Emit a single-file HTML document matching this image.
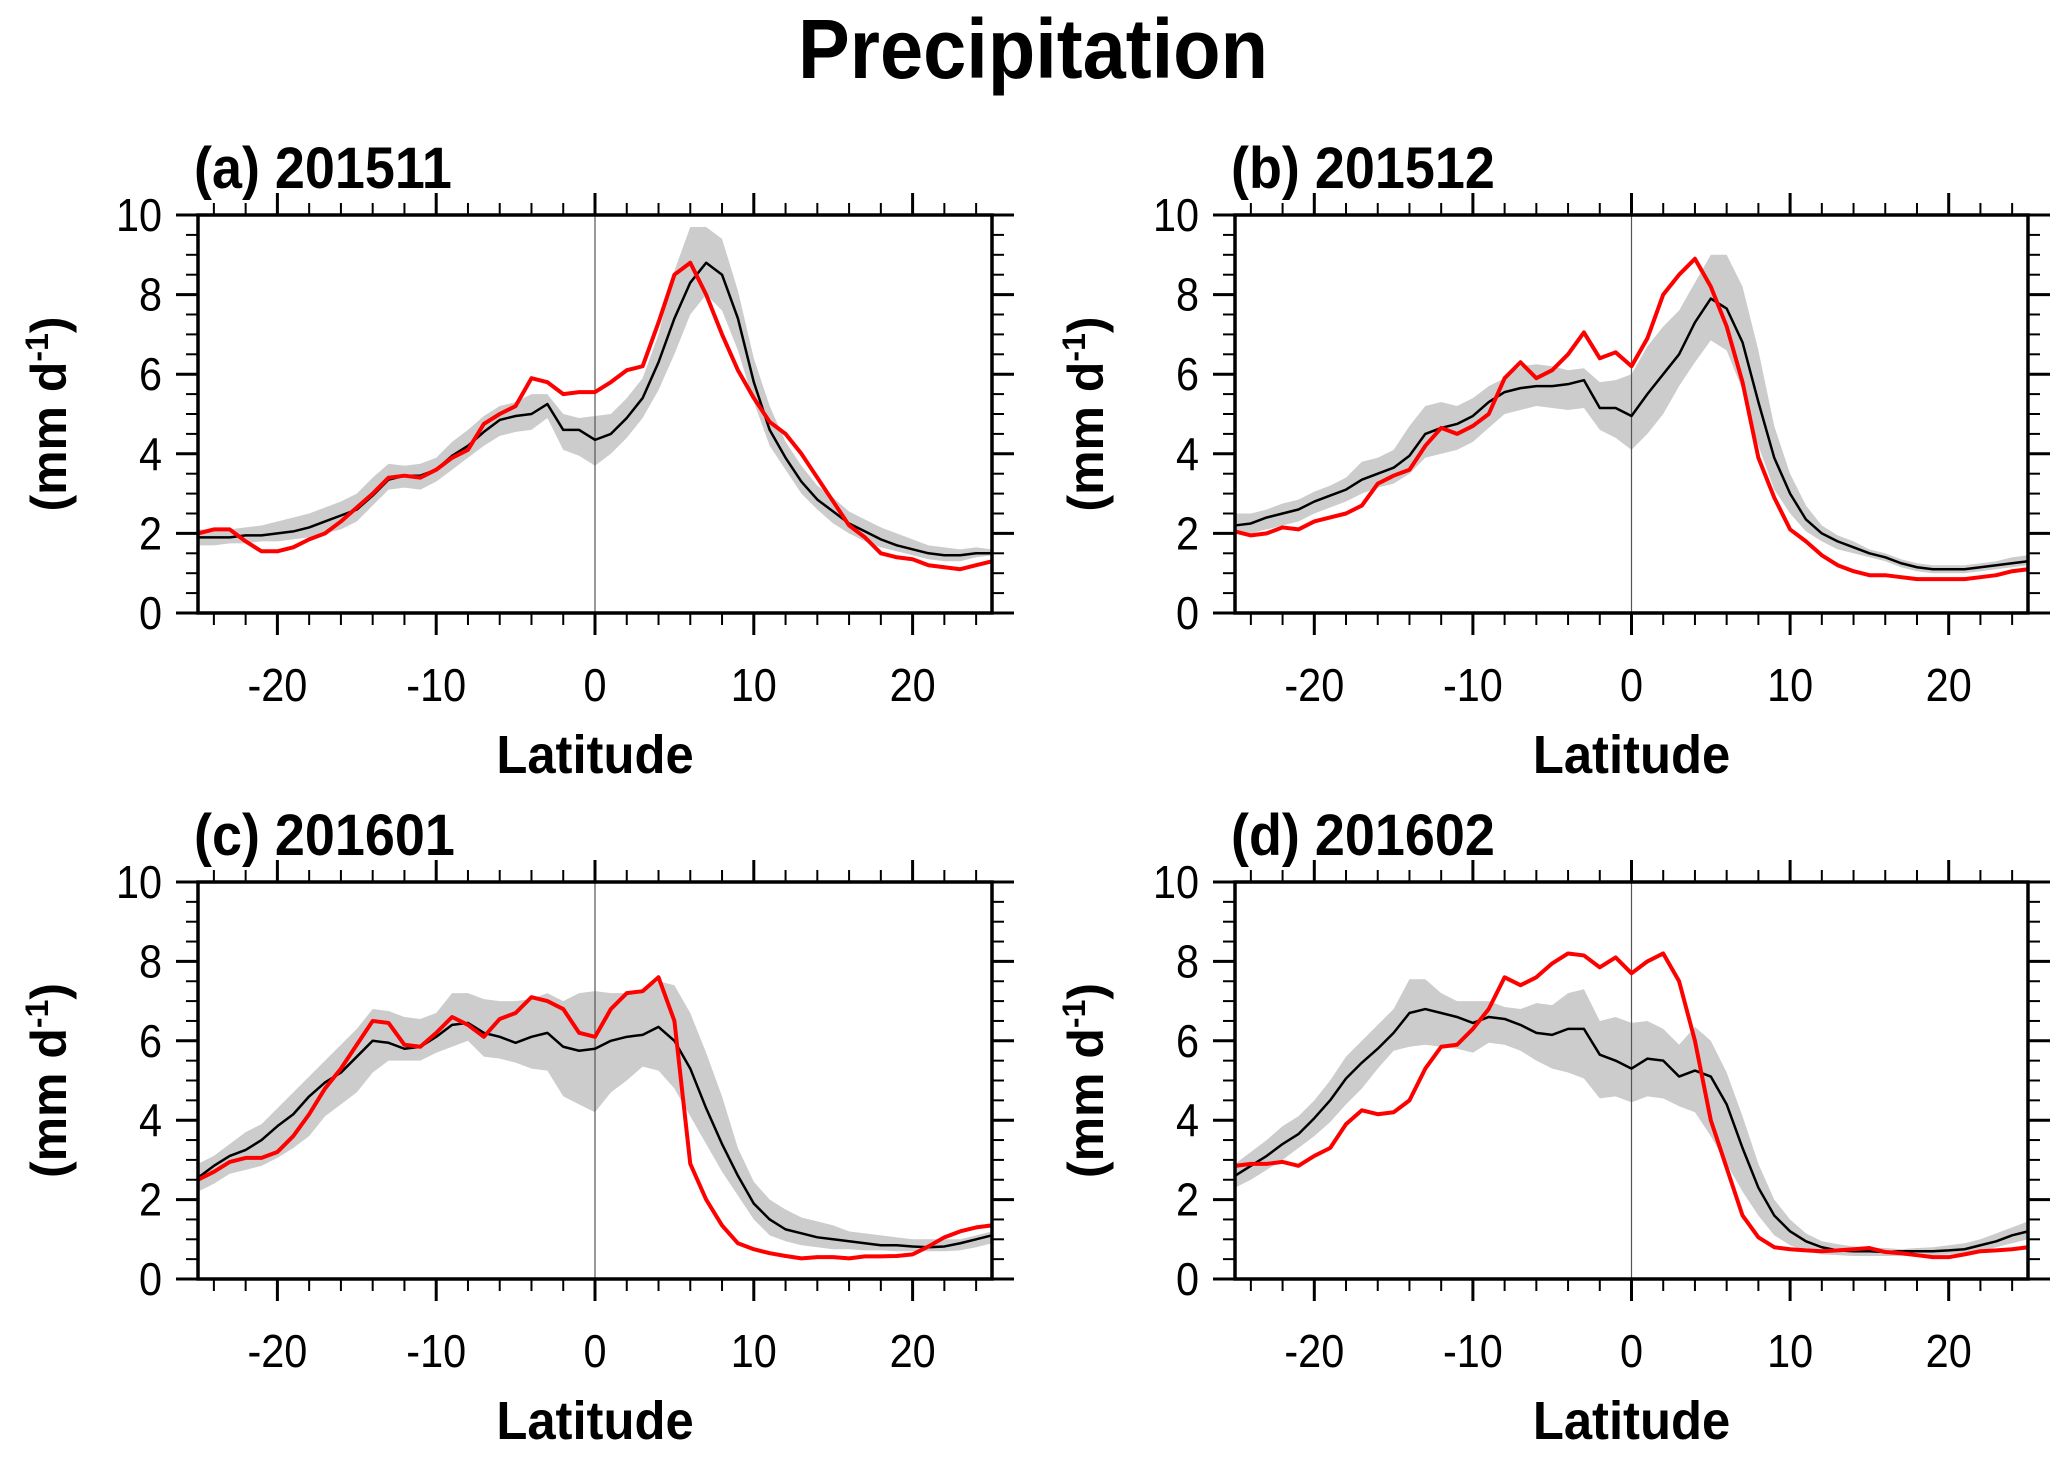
<!DOCTYPE html>
<html><head><meta charset="utf-8"><style>
html,body{margin:0;padding:0;background:#fff}
svg{display:block;font-family:"Liberation Sans",Arial,sans-serif}
</style></head><body>
<svg id="chart" width="2067" height="1457" viewBox="0 0 2067 1457" xmlns="http://www.w3.org/2000/svg">
<text transform="translate(1033,78) scale(0.97,1.05)" text-anchor="middle" font-size="80" font-weight="bold">Precipitation</text>
</svg>
<script>
const lats = [];
for (let d=-25; d<=25; d++) lats.push(d);
const xTicks = [-20,-10,0,10,20];
const yTicks = [0,2,4,6,8,10];
const panelTitles = ["(a) 201511","(b) 201512","(c) 201601","(d) 201602"];

const blackA=[1.9,1.9,1.9,1.95,1.95,2.0,2.05,2.15,2.3,2.45,2.6,2.95,3.35,3.45,3.45,3.6,3.95,4.2,4.55,4.85,4.95,5.0,5.25,4.6,4.6,4.35,4.5,4.9,5.4,6.3,7.4,8.3,8.8,8.5,7.4,5.8,4.6,3.9,3.3,2.85,2.55,2.25,2.05,1.85,1.7,1.6,1.5,1.45,1.45,1.5,1.5];
const redA=[2.0,2.1,2.1,1.8,1.55,1.55,1.65,1.85,2.0,2.3,2.65,3.0,3.4,3.45,3.4,3.6,3.9,4.1,4.75,5.0,5.2,5.9,5.8,5.5,5.55,5.55,5.8,6.1,6.2,7.3,8.5,8.8,8.0,7.0,6.1,5.4,4.8,4.5,4.0,3.4,2.8,2.2,1.9,1.5,1.4,1.35,1.2,1.15,1.1,1.2,1.3];
const upperA=[2.1,2.1,2.1,2.15,2.2,2.3,2.4,2.5,2.65,2.8,3.0,3.4,3.75,3.7,3.75,3.9,4.3,4.6,4.95,5.2,5.3,5.5,5.5,5.0,4.9,4.95,5.0,5.4,5.9,7.0,8.6,9.7,9.7,9.4,8.1,6.4,5.2,4.3,3.7,3.2,2.9,2.55,2.35,2.15,2.0,1.85,1.7,1.65,1.6,1.65,1.6];
const lowerA=[1.7,1.7,1.75,1.75,1.8,1.8,1.85,1.9,2.0,2.1,2.3,2.7,3.1,3.15,3.1,3.3,3.6,3.9,4.2,4.45,4.55,4.6,4.9,4.1,3.95,3.7,4.0,4.4,4.9,5.6,6.5,7.5,8.0,7.6,6.6,5.3,4.2,3.6,3.0,2.6,2.25,2.0,1.8,1.65,1.55,1.45,1.35,1.3,1.3,1.4,1.45];

const blackB=[2.2,2.25,2.4,2.5,2.6,2.8,2.95,3.1,3.35,3.5,3.65,3.95,4.5,4.65,4.75,4.95,5.3,5.55,5.65,5.7,5.7,5.75,5.85,5.15,5.15,4.95,5.5,6.0,6.5,7.3,7.9,7.65,6.8,5.3,3.9,3.0,2.35,2.0,1.8,1.65,1.5,1.4,1.25,1.15,1.1,1.1,1.1,1.15,1.2,1.25,1.3];
const redB=[2.05,1.95,2.0,2.15,2.1,2.3,2.4,2.5,2.7,3.25,3.45,3.6,4.2,4.65,4.5,4.7,5.0,5.9,6.3,5.9,6.1,6.5,7.05,6.4,6.55,6.2,6.9,8.0,8.5,8.9,8.2,7.2,5.8,3.9,2.9,2.1,1.8,1.45,1.2,1.05,0.95,0.95,0.9,0.85,0.85,0.85,0.85,0.9,0.95,1.05,1.1];
const upperB=[2.5,2.5,2.6,2.75,2.85,3.05,3.2,3.4,3.8,3.9,4.1,4.7,5.2,5.3,5.2,5.4,5.7,5.9,6.2,6.25,6.2,6.1,6.15,5.8,5.85,6.0,6.7,7.2,7.6,8.3,9.0,9.0,8.2,6.6,4.7,3.5,2.7,2.2,1.95,1.8,1.6,1.5,1.35,1.25,1.2,1.2,1.2,1.25,1.3,1.4,1.45];
const lowerB=[2.0,2.0,2.1,2.2,2.3,2.5,2.65,2.8,3.0,3.15,3.25,3.5,3.9,4.0,4.1,4.3,4.65,5.0,5.1,5.2,5.15,5.1,5.15,4.6,4.4,4.1,4.5,5.0,5.7,6.3,6.85,6.6,5.6,4.2,3.1,2.5,2.05,1.8,1.6,1.5,1.4,1.3,1.15,1.05,1.0,1.0,1.0,1.05,1.1,1.15,1.2];

const blackC=[2.55,2.85,3.1,3.25,3.5,3.85,4.15,4.6,4.95,5.2,5.6,6.0,5.95,5.8,5.85,6.1,6.4,6.45,6.2,6.1,5.95,6.1,6.2,5.85,5.75,5.8,6.0,6.1,6.15,6.35,6.0,5.3,4.3,3.4,2.6,1.9,1.5,1.25,1.15,1.05,1.0,0.95,0.9,0.85,0.85,0.82,0.8,0.82,0.9,1.0,1.1];
const redC=[2.5,2.7,2.95,3.05,3.05,3.2,3.6,4.15,4.8,5.3,5.9,6.5,6.45,5.9,5.85,6.2,6.6,6.4,6.1,6.55,6.7,7.1,7.0,6.8,6.2,6.1,6.8,7.2,7.25,7.6,6.5,2.9,2.0,1.35,0.9,0.75,0.65,0.58,0.52,0.55,0.55,0.52,0.57,0.57,0.58,0.62,0.82,1.05,1.2,1.3,1.35];
const upperC=[2.9,3.1,3.4,3.7,3.9,4.3,4.7,5.1,5.5,5.9,6.3,6.8,6.75,6.6,6.55,6.7,7.2,7.2,7.05,7.0,7.0,7.05,7.2,7.0,7.2,7.25,7.2,7.2,7.25,7.5,7.4,6.7,5.7,4.6,3.3,2.45,2.0,1.75,1.55,1.45,1.35,1.2,1.15,1.1,1.05,1.0,1.0,1.0,1.0,1.1,1.2];
const lowerC=[2.2,2.4,2.65,2.75,2.85,3.05,3.3,3.6,4.1,4.4,4.7,5.2,5.5,5.5,5.5,5.7,5.85,6.0,5.6,5.55,5.45,5.3,5.25,4.6,4.4,4.2,4.7,5.0,5.35,5.25,4.8,4.1,3.4,2.7,2.1,1.5,1.1,0.95,0.85,0.8,0.75,0.75,0.72,0.72,0.7,0.7,0.7,0.7,0.72,0.8,0.9];

const blackD=[2.6,2.85,3.1,3.4,3.65,4.05,4.5,5.05,5.45,5.8,6.2,6.7,6.8,6.7,6.6,6.45,6.6,6.55,6.4,6.2,6.15,6.3,6.3,5.65,5.5,5.3,5.55,5.5,5.1,5.25,5.1,4.4,3.3,2.3,1.6,1.2,0.95,0.8,0.72,0.7,0.7,0.68,0.7,0.7,0.7,0.72,0.75,0.85,0.95,1.1,1.2];
const redD=[2.85,2.9,2.9,2.95,2.85,3.1,3.3,3.9,4.25,4.15,4.2,4.5,5.3,5.85,5.9,6.3,6.8,7.6,7.4,7.6,7.95,8.2,8.15,7.85,8.1,7.7,8.0,8.2,7.5,6.0,4.0,2.8,1.6,1.05,0.8,0.75,0.72,0.7,0.72,0.75,0.78,0.68,0.65,0.6,0.55,0.55,0.62,0.7,0.72,0.75,0.8];
const upperD=[2.9,3.2,3.5,3.85,4.1,4.5,5.0,5.6,6.0,6.4,6.8,7.55,7.55,7.2,7.0,7.0,7.0,6.85,6.8,6.95,6.9,7.2,7.3,6.5,6.6,6.45,6.5,6.3,5.9,6.35,6.0,5.2,4.1,2.9,2.0,1.5,1.15,0.95,0.88,0.82,0.78,0.78,0.75,0.78,0.8,0.85,0.9,1.0,1.15,1.3,1.45];
const lowerD=[2.3,2.5,2.75,3.0,3.3,3.6,3.95,4.4,4.8,5.3,5.75,5.85,5.9,5.85,5.8,5.7,5.95,5.9,5.75,5.5,5.3,5.2,5.05,4.55,4.6,4.45,4.6,4.55,4.35,4.2,3.6,2.9,2.2,1.6,1.1,0.85,0.7,0.62,0.6,0.58,0.58,0.58,0.58,0.58,0.6,0.62,0.65,0.7,0.8,0.9,1.0];

const NS="http://www.w3.org/2000/svg";
const svg=document.getElementById('chart');
function mk(tag,attrs,parent){const e=document.createElementNS(NS,tag);for(const k in attrs)e.setAttribute(k,attrs[k]);(parent||svg).appendChild(e);return e;}

const panels=[
 {L:198,T:215,R:992,B:613,black:blackA,red:redA,up:upperA,lo:lowerA,key:'a'},
 {L:1235,T:215,R:2028,B:613,black:blackB,red:redB,up:upperB,lo:lowerB,key:'b'},
 {L:198,T:882,R:992,B:1279,black:blackC,red:redC,up:upperC,lo:lowerC,key:'c'},
 {L:1235,T:882,R:2028,B:1279,black:blackD,red:redD,up:upperD,lo:lowerD,key:'d'}
];

panels.forEach((p,i)=>{
  const g=mk('g',{});
  
  
  const xs=v=>p.L+(v+25)/50*(p.R-p.L);
  const ys=v=>p.B-v/10*(p.B-p.T);
  let d='M'+lats.map((la,j)=>xs(la)+','+ys(p.up[j])).join('L');
  for(let j=lats.length-1;j>=0;j--) d+='L'+xs(lats[j])+','+ys(p.lo[j]);
  const sh=mk('path',{d:d+'Z',fill:'#cccccc',stroke:'none'},g);
  
  
  const zl=mk('line',{x1:xs(0),x2:xs(0),y1:p.T,y2:p.B,stroke:'#555',"stroke-width":1.2},g);
  
  
  const bl=mk('path',{d:'M'+lats.map((la,j)=>xs(la)+','+ys(p.black[j])).join('L'),fill:'none',stroke:'#000',"stroke-width":2.5,"stroke-linejoin":"round"},g);
  
  
  const rl=mk('path',{d:'M'+lats.map((la,j)=>xs(la)+','+ys(p.red[j])).join('L'),fill:'none',stroke:'#ff0000',"stroke-width":4,"stroke-linejoin":"round"},g);
  
  
  const fr=mk('rect',{x:p.L,y:p.T,width:p.R-p.L,height:p.B-p.T,fill:'none',stroke:'#000',"stroke-width":3.5},g);
  
  
  const tg=mk('g',{stroke:'#000'},g);
  
  
  for(let v=-24;v<=24;v+=2){const x=xs(v);
    mk('line',{x1:x,x2:x,y1:p.B,y2:p.B+12,"stroke-width":2},tg);
    mk('line',{x1:x,x2:x,y1:p.T,y2:p.T-12,"stroke-width":2},tg);}
  xTicks.forEach(v=>{const x=xs(v);
    mk('line',{x1:x,x2:x,y1:p.B,y2:p.B+22,"stroke-width":3},tg);
    mk('line',{x1:x,x2:x,y1:p.T,y2:p.T-22,"stroke-width":3},tg);
    const t=mk('text',{transform:'translate('+x+','+(p.B+88)+') scale(0.9,1)',"text-anchor":"middle","font-size":46,stroke:'none',fill:'#000'},g);
    t.textContent=String(v);
    
    });
  for(let v=0.5;v<10;v+=0.5){const y=ys(v);
    mk('line',{x1:p.L,x2:p.L-12,y1:y,y2:y,"stroke-width":2},tg);
    mk('line',{x1:p.R,x2:p.R+12,y1:y,y2:y,"stroke-width":2},tg);}
  yTicks.forEach(v=>{const y=ys(v);
    mk('line',{x1:p.L,x2:p.L-22,y1:y,y2:y,"stroke-width":3},tg);
    mk('line',{x1:p.R,x2:p.R+22,y1:y,y2:y,"stroke-width":3},tg);
    const t=mk('text',{transform:'translate('+(p.L-36)+','+(y+16)+') scale(0.9,1)',"text-anchor":"end","font-size":46,stroke:'none',fill:'#000'},g);
    t.textContent=v;
    
    });
  const pt=mk('text',{transform:'translate('+(p.L-4)+','+(p.T-27)+') scale(0.93,1)',"font-size":58,"font-weight":"bold"},g);
  pt.textContent=panelTitles[i];
  
  
  const xl=mk('text',{transform:'translate('+((p.L+p.R)/2)+','+(p.B+160)+') scale(0.94,1)',"text-anchor":"middle","font-size":54,"font-weight":"bold"},g);
  xl.textContent='Latitude';
  
  
  const cy=(p.T+p.B)/2, cx=p.L-132;
  const yl=mk('text',{x:cx,y:cy,"text-anchor":"middle","font-size":50,"font-weight":"bold",transform:'rotate(-90 '+cx+' '+cy+')'},g);
  yl.innerHTML='(mm d<tspan baseline-shift="super" font-size="32">-1</tspan>)';
  
  
});
</script>
</body></html>
